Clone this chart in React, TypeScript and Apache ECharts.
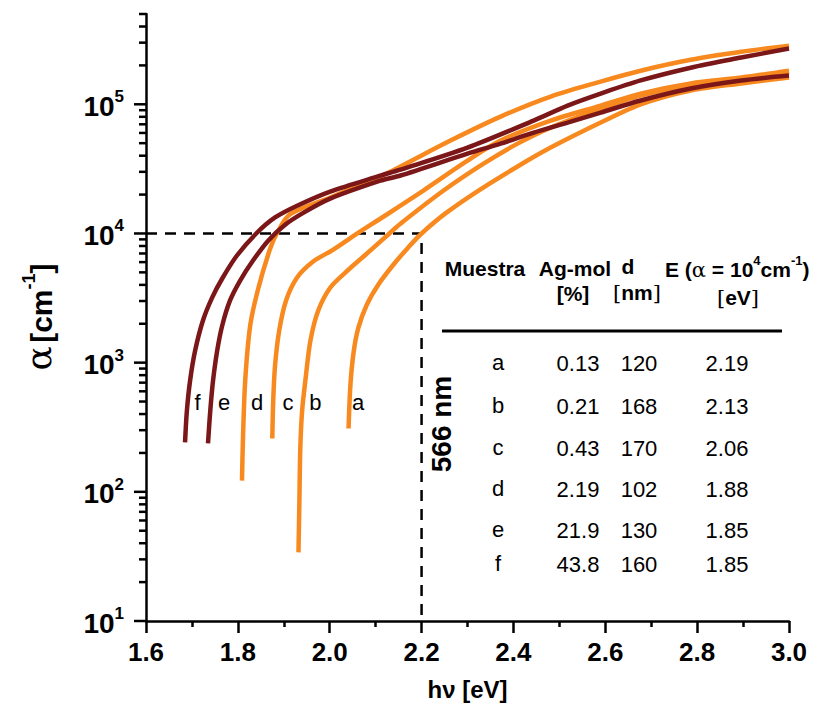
import React, { useEffect, useRef } from 'react';
import * as echarts from 'echarts';

// Absorption coefficient α (cm⁻¹) versus photon energy hν (eV), samples a–f
const curveA = [[2.041, 309], [2.045, 665], [2.052, 1200], [2.062, 1840], [2.08, 2770], [2.106, 4030], [2.139, 5750], [2.171, 7800], [2.2, 10000], [2.252, 14300], [2.324, 21500], [2.409, 33000], [2.481, 46200], [2.59, 72200], [2.677, 100000], [2.786, 128000], [2.896, 145000], [3.0, 161000]];
const curveB = [[1.932, 34], [1.934, 86], [1.936, 220], [1.94, 427], [1.947, 727], [1.958, 1480], [1.975, 2530], [2.001, 3800], [2.034, 4980], [2.078, 6850], [2.13, 10000], [2.154, 11900], [2.248, 21500], [2.335, 34700], [2.409, 49600], [2.481, 66000], [2.59, 92600], [2.677, 117000], [2.786, 140000], [2.896, 158000], [3.0, 176000]];
const curveC = [[1.875, 259], [1.877, 509], [1.881, 951], [1.89, 1770], [1.905, 3030], [1.929, 4560], [1.964, 6060], [2.008, 7510], [2.06, 10000], [2.11, 13000], [2.154, 16400], [2.204, 21500], [2.3, 36600], [2.372, 52400], [2.481, 74800], [2.59, 97700], [2.677, 121000], [2.786, 145000], [2.896, 161000], [3.0, 182000]];
const curveD = [[1.809, 122], [1.811, 249], [1.816, 726], [1.827, 1950], [1.844, 3700], [1.87, 7570], [1.886, 10200], [1.914, 14100], [2.001, 19000], [2.11, 27600], [2.154, 33000], [2.263, 52400], [2.372, 80300], [2.481, 114800], [2.59, 150000], [2.677, 182000], [2.786, 221000], [2.896, 255000], [3.0, 284000]];
const curveE = [[1.735, 237], [1.74, 426], [1.746, 726], [1.755, 1240], [1.766, 1940], [1.783, 3030], [1.805, 4320], [1.833, 6170], [1.866, 8800], [1.903, 11700], [1.947, 14750], [2.001, 18600], [2.11, 25600], [2.154, 28100], [2.3, 41500], [2.372, 49600], [2.444, 60400], [2.518, 72200], [2.59, 86300], [2.677, 107000], [2.786, 132500], [2.896, 152800], [3.0, 166800]];
const curveF = [[1.685, 241], [1.689, 423], [1.696, 726], [1.707, 1240], [1.724, 2120], [1.744, 3190], [1.766, 4480], [1.798, 6750], [1.84, 10000], [1.881, 13300], [1.929, 16400], [2.001, 21100], [2.11, 28000], [2.154, 31200], [2.3, 46200], [2.444, 74800], [2.518, 97700], [2.59, 121000], [2.677, 153000], [2.786, 192000], [2.896, 230000], [3.0, 270000]];

// Table values
const sampleIds = ['a', 'b', 'c', 'd', 'e', 'f'];
const agMol = ['0.13', '0.21', '0.43', '2.19', '21.9', '43.8'];
const thickness = ['120', '168', '170', '102', '130', '160'];
const edgeEnergy = ['2.19', '2.13', '2.06', '1.88', '1.85', '1.85'];

// Reference level α = 10^4 cm⁻¹ and the matching photon energy (566 nm)
const alphaRef = 10000;
const energyRef = 2.2;

// Axis ranges / ticks
const xMin = 1.6;
const xMax = 3.0;
const xStep = 0.2;
const yMin = 10;
const yMax = 500000;

const FONT = '"Liberation Sans", Arial, Helvetica, sans-serif';
const SERIF = '"DejaVu Serif", "Liberation Serif", serif';
const ORANGE = '#f7891f';
const MAROON = '#7b1719';

const curves = [
  { id: 'a', data: curveA, color: ORANGE },
  { id: 'b', data: curveB, color: ORANGE },
  { id: 'c', data: curveC, color: ORANGE },
  { id: 'd', data: curveD, color: ORANGE },
  { id: 'e', data: curveE, color: MAROON },
  { id: 'f', data: curveF, color: MAROON },
];

// where each curve letter sits (hν, α)
const curveLabelAnchors = [
  { id: 'a', x: 2.062, y: 490 },
  { id: 'b', x: 1.969, y: 490 },
  { id: 'c', x: 1.909, y: 490 },
  { id: 'd', x: 1.842, y: 490 },
  { id: 'e', x: 1.77, y: 490 },
  { id: 'f', x: 1.712, y: 490 },
];

// log-axis tick marks: decades get long ticks, 2..9 multiples short ones
function buildYTicks() {
  const ticks: number[][] = [];
  for (let k = 1; k <= 5; k++) {
    const base = Math.pow(10, k);
    for (let m = 1; m <= 9; m++) {
      const v = base * m;
      if (v > yMax + 1) break;
      ticks.push([xMin, v, m === 1 ? 12 : 7]);
    }
  }
  return ticks;
}

function buildOption() {
  const lineSeries = curves.map((c) => ({
    type: 'line',
    name: c.id,
    data: c.data,
    showSymbol: false,
    smooth: 0.3,
    lineStyle: { color: c.color, width: 4.5 },
    itemStyle: { color: c.color },
    z: c.color === MAROON ? 4 : 3,
  }));

  const rowY = [362, 405, 447, 488, 529, 563];
  const txt = (x: number, y: number, text: string, opts: any = {}) => ({
    type: 'text',
    x,
    y,
    style: {
      text,
      fill: '#000',
      font: opts.font || `22px ${FONT}`,
      align: opts.align || 'center',
      verticalAlign: 'middle',
      rich: opts.rich,
    },
  });

  const tableCells: any[] = [];
  sampleIds.forEach((id, i) => {
    tableCells.push(txt(498, rowY[i], id));
    tableCells.push(txt(578, rowY[i] + 1, agMol[i]));
    tableCells.push(txt(639, rowY[i] + 1, thickness[i]));
    tableCells.push(txt(727, rowY[i] + 1, edgeEnergy[i]));
  });

  const hb = { fontSize: 21, fontWeight: 'bold', fontFamily: FONT, fill: '#000', lineHeight: 26, verticalAlign: 'bottom' };
  const hs = { fontSize: 13, fontWeight: 'bold', fontFamily: FONT, fill: '#000', lineHeight: 13, verticalAlign: 'top' };
  const hg = { fontSize: 21, fontFamily: SERIF, fill: '#000', lineHeight: 26, verticalAlign: 'bottom' };
  const hr = { fontSize: 21, fontFamily: SERIF, fill: '#000', lineHeight: 26, verticalAlign: 'bottom' };

  const graphics: any[] = [
    // y-axis title
    {
      type: 'text',
      x: 38,
      y: 317,
      rotation: Math.PI / 2,
      style: {
        text: '{g|α} {b|[cm}{s|-1}{b|]}',
        align: 'center',
        verticalAlign: 'middle',
        fill: '#000',
        rich: {
          g: { fontSize: 36, fontFamily: SERIF, fill: '#000', lineHeight: 36, verticalAlign: 'bottom' },
          b: { fontSize: 30, fontWeight: 'bold', fontFamily: FONT, fill: '#000', lineHeight: 34, verticalAlign: 'bottom' },
          s: { fontSize: 18, fontWeight: 'bold', fontFamily: FONT, fill: '#000', lineHeight: 20, verticalAlign: 'top' },
        },
      },
    },
    // wavelength note on the dashed guide
    {
      type: 'text',
      x: 441,
      y: 424,
      rotation: Math.PI / 2,
      style: {
        text: '566 nm',
        align: 'center',
        verticalAlign: 'middle',
        fill: '#000',
        font: `bold 28px ${FONT}`,
      },
    },
    // table header
    txt(485, 268, 'Muestra', { font: `bold 21px ${FONT}` }),
    txt(575, 268, 'Ag-mol', { font: `bold 21px ${FONT}` }),
    txt(628, 266, 'd', { font: `bold 21px ${FONT}` }),
    txt(665, 267, '{h|E (}{g|α}{h| = 10}{s|4}{h|cm}{s|-1}{h|)}', {
      align: 'left',
      rich: { h: hb, s: hs, g: hg },
    }),
    txt(573, 293, '[%]', { font: `bold 21px ${FONT}` }),
    txt(637, 290, '{r|[}{h|nm}{r|]}', { rich: { h: hb, r: hr } }),
    txt(738, 295, '{r|[}{h|eV}{r|]}', { rich: { h: hb, r: hr } }),
    {
      type: 'line',
      shape: { x1: 442, y1: 331, x2: 782, y2: 331 },
      style: { stroke: '#000', lineWidth: 3 },
    },
    ...tableCells,
  ];

  return {
    animation: false,
    backgroundColor: '#ffffff',
    grid: { left: 146, right: 33, top: 14, bottom: 94, containLabel: false, outerBoundsMode: 'none' },
    xAxis: {
      type: 'value',
      min: xMin,
      max: xMax,
      interval: xStep,
      name: 'hν [eV]',
      nameLocation: 'middle',
      nameGap: 56,
      nameTextStyle: { fontSize: 24, fontWeight: 'bold', fontFamily: FONT, color: '#000' },
      axisLine: { show: true, lineStyle: { color: '#000', width: 2.5 } },
      axisTick: { show: true, length: 12, lineStyle: { color: '#000', width: 2.5 } },
      minorTick: { show: true, splitNumber: 2, length: 6, lineStyle: { color: '#000', width: 2.5 } },
      splitLine: { show: false },
      axisLabel: {
        margin: 18,
        fontSize: 26,
        fontWeight: 'bold',
        fontFamily: FONT,
        color: '#000',
        formatter: (v: number) => v.toFixed(1),
      },
    },
    yAxis: {
      type: 'log',
      logBase: 10,
      min: yMin,
      max: yMax,
      axisLine: { show: true, lineStyle: { color: '#000', width: 2.5 } },
      axisTick: { show: false },
      splitLine: { show: false },
      axisLabel: {
        margin: 22,
        showMaxLabel: false,
        formatter: (v: number) => {
          const e = Math.log10(v);
          const r = Math.round(e);
          if (Math.abs(e - r) > 1e-6) return '';
          return `{b|10}{s|${r}}`;
        },
        rich: {
          b: { fontSize: 28, fontWeight: 'bold', fontFamily: FONT, color: '#000', lineHeight: 32, verticalAlign: 'bottom' },
          s: { fontSize: 17, fontWeight: 'bold', fontFamily: FONT, color: '#000', lineHeight: 16, verticalAlign: 'top' },
        },
      },
    },
    series: [
      {
        type: 'line',
        name: 'guide',
        data: [[xMin, alphaRef], [energyRef, alphaRef], [energyRef, yMin]],
        showSymbol: false,
        lineStyle: { color: '#000', width: 2.5, type: [11, 8] },
        z: 2,
      },
      ...lineSeries,
      {
        type: 'custom',
        name: 'yticks',
        clip: false,
        silent: true,
        data: buildYTicks(),
        renderItem: (_p: any, api: any) => {
          const pt = api.coord([api.value(0), api.value(1)]);
          const len = api.value(2);
          return {
            type: 'line',
            shape: { x1: pt[0] - len, y1: pt[1], x2: pt[0], y2: pt[1] },
            style: { stroke: '#000', lineWidth: 2.5 },
          };
        },
        z: 5,
      },
      {
        type: 'custom',
        name: 'curve-letters',
        clip: false,
        silent: true,
        data: curveLabelAnchors.map((a, i) => [a.x, a.y, i]),
        renderItem: (_p: any, api: any) => {
          const pt = api.coord([api.value(0), api.value(1)]);
          const anchor = curveLabelAnchors[api.value(2)];
          return {
            type: 'text',
            x: pt[0],
            y: pt[1],
            style: {
              text: anchor.id,
              fill: '#000',
              font: `22px ${FONT}`,
              align: 'center',
              verticalAlign: 'middle',
            },
          };
        },
        z: 6,
      },
    ],
    graphic: graphics,
  };
}

export default function App() {
  const ref = useRef<HTMLDivElement>(null);
  useEffect(() => {
    const chart = echarts.init(ref.current!, null, { renderer: 'svg' });
    chart.setOption(buildOption() as any);
    return () => chart.dispose();
  }, []);
  return (
    <div
      ref={ref}
      style={{ position: 'fixed', left: 0, top: 0, width: 822, height: 715, background: '#fff' }}
    />
  );
}
